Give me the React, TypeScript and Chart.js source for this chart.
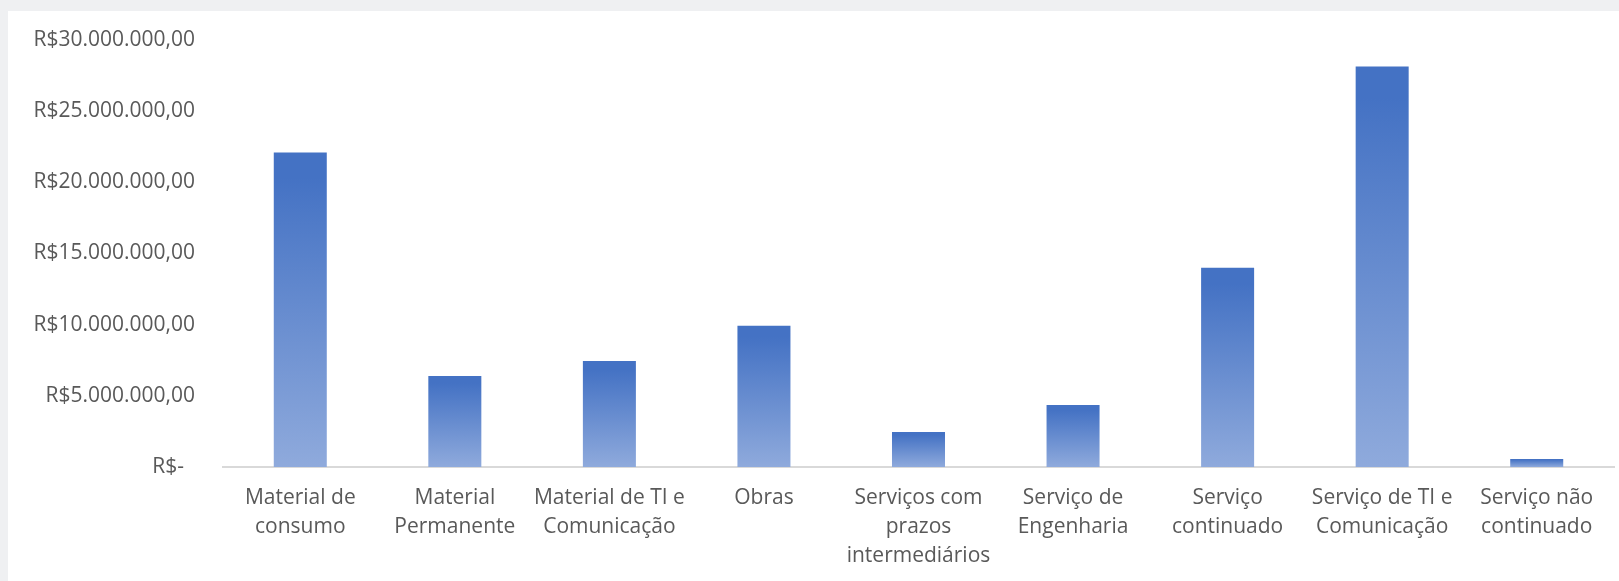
import React, { useEffect, useRef } from "react";
import { Chart, registerables } from "chart.js";

Chart.register(...registerables);

const categories: string[][] = [
  ["Material de", "consumo"],
  ["Material", "Permanente"],
  ["Material de TI e", "Comunicação"],
  ["Obras"],
  ["Serviços com", "prazos", "intermediários"],
  ["Serviço de", "Engenharia"],
  ["Serviço", "continuado"],
  ["Serviço de TI e", "Comunicação"],
  ["Serviço não", "continuado"],
];

const values: number[] = [
  22100000, 6400000, 7450000, 9920000, 2460000, 4360000, 14000000, 28130000, 560000,
];

const yTicks: number[] = [0, 5000000, 10000000, 15000000, 20000000, 25000000, 30000000];

function formatBRL(v: number): string {
  if (v === 0) return "R$-  ";
  const s = Math.round(v).toString();
  const parts: string[] = [];
  for (let i = s.length; i > 0; i -= 3) {
    parts.unshift(s.slice(Math.max(0, i - 3), i));
  }
  return "R$" + parts.join(".") + ",00";
}

export default function App() {
  const canvasRef = useRef<HTMLCanvasElement | null>(null);

  useEffect(() => {
    const canvas = canvasRef.current;
    if (!canvas) return;
    const family = "'Open Sans', sans-serif";
    const chart = new Chart(canvas, {
      type: "bar",
      data: {
        labels: categories,
        datasets: [
          {
            data: values,
            backgroundColor: (ctx: any) => {
              const c = ctx.chart;
              const area = c.chartArea;
              if (!area || ctx.raw === undefined) return "#4472c4";
              const yScale = c.scales.y;
              const top = yScale.getPixelForValue(ctx.raw as number);
              const base = yScale.getPixelForValue(0);
              if (!isFinite(top) || !isFinite(base) || base - top < 1) return "#4472c4";
              const g = c.ctx.createLinearGradient(0, top, 0, base);
              g.addColorStop(0, "#4472c4");
              g.addColorStop(0.08, "#4472c4");
              g.addColorStop(1, "#8faadc");
              return g;
            },
            borderWidth: 0,
            categoryPercentage: 1,
            barPercentage: 0.343,
          },
        ],
      },
      options: {
        responsive: false,
        animation: false,
        devicePixelRatio: 1,
        layout: { padding: { top: 29, right: 5, left: 0, bottom: 0 } },
        plugins: {
          legend: { display: false },
          tooltip: { enabled: false },
          title: { display: false },
        },
        scales: {
          x: {
            grid: { display: false, drawTicks: false },
            border: { display: true, color: "#d9d9d9", width: 2 },
            ticks: {
              color: "#595959",
              font: { family, size: 21, lineHeight: 1.37 },
              padding: 17,
              maxRotation: 0,
              minRotation: 0,
              autoSkip: false,
            },
            afterFit: (scale: any) => {
              scale.height = 114;
            },
          },
          y: {
            min: 0,
            max: 30000000,
            afterBuildTicks: (scale: any) => {
              scale.ticks = yTicks.map((v) => ({ value: v }));
            },
            grid: { display: false, drawTicks: false },
            border: { display: false },
            ticks: {
              color: "#595959",
              font: { family, size: 21 },
              padding: 28,
              callback: (v: any) => formatBRL(Number(v)),
            },
            afterFit: (scale: any) => {
              scale.width = 215;
              scale.paddingTop = 0;
              scale.paddingBottom = 0;
            },
          },
        },
      },
    });
    return () => chart.destroy();
  }, []);

  return (
    <div
      style={{
        position: "fixed",
        inset: 0,
        background: "#eff0f2",
        overflow: "hidden",
      }}
    >
      <div
        style={{
          position: "absolute",
          left: 8,
          top: 11,
          width: 1611,
          height: 570,
          background: "#ffffff",
        }}
      >
        <canvas ref={canvasRef} width={1611} height={570} style={{ display: "block" }} />
      </div>
    </div>
  );
}
